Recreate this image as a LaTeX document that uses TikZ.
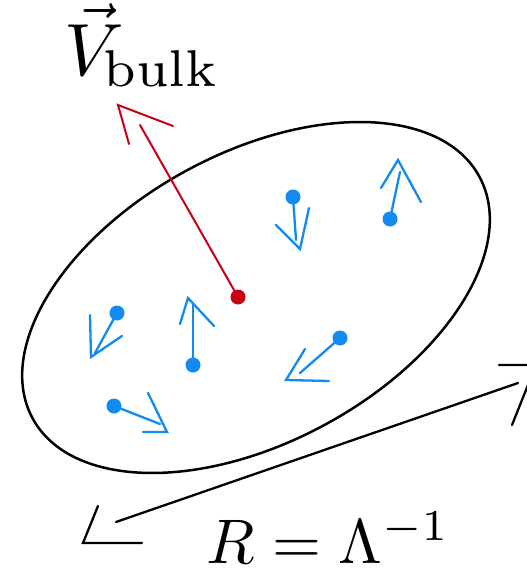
\documentclass[tikz,border=0pt]{standalone}
\usetikzlibrary{calc}
\definecolor{bulkred}{RGB}{200,0,22}
\definecolor{particleblue}{RGB}{18,138,240}
\tikzset{
  blob edge/.style={black,line width=2.5pt},
  size edge/.style={black,line width=2.3pt,line cap=round},
  bulk edge/.style={bulkred,line width=2pt,line cap=round},
  bulk dot/.style={circle,fill=bulkred,minimum size=15pt,inner sep=0pt},
  particle edge/.style={particleblue,line width=2.3pt,line cap=round},
  particle dot/.style={circle,fill=particleblue,minimum size=15pt,inner sep=0pt},
  big label/.style={inner sep=0pt,anchor=base west,transform shape}
}
\begin{document}
\begin{tikzpicture}[x=1pt,y=-1pt]
  \useasboundingbox (0,0) rectangle (527,568);
  % the blob
  \coordinate (blobcentre) at (256,297.5);
  \draw[blob edge,rotate around={28.4:(blobcentre)}]
    (blobcentre) ellipse [x radius=254pt,y radius=144.7pt];
  % bulk velocity
  \coordinate (bulkshaft) at (140,125);
  \coordinate (bulktip) at (118,105);
  \coordinate (bulkbarbl) at (129,144);
  \coordinate (bulkbarbr) at (173,126);
  \node[bulk dot] (bulkdot) at (238,297) {};
  \draw[bulk edge] (bulkdot.center) -- (bulkshaft);
  \draw[bulk edge] (bulkbarbl) -- (bulktip) -- (bulkbarbr);
  \node[big label,scale=7.4] (bulklabel) at (63,75)
    {$\vec{V}\mkern-5mu{}_{\mathrm{bulk}}$};
  % particles: dot / shaft end / tip / barbs
  \foreach \n/\d/\s/\t/\l/\r in {
      one/{293,197}/{296,240}/{300,249}/{276,225}/{309,208},
      two/{390,219}/{400,172}/{398,160}/{381,188}/{421,202},
      three/{340,338}/{300,373}/{286,380}/{305,349}/{329,381},
      four/{117,313}/{95,353}/{91,357}/{90,315}/{122,336},
      five/{193,365}/{193,305}/{188,298}/{180,324}/{214,326},
      six/{114,406}/{160,424}/{167,432}/{148,393}/{143,432}}{
    \coordinate (shaft\n) at (\s);
    \coordinate (tip\n) at (\t);
    \coordinate (barbl\n) at (\l);
    \coordinate (barbr\n) at (\r);
    \node[particle dot] (dot\n) at (\d) {};
    \draw[particle edge] (dot\n.center) -- (shaft\n);
    \draw[particle edge] (barbl\n) -- (tip\n) -- (barbr\n);
  }
  % size of the blob
  \coordinate (sizeleft) at (116,522);
  \coordinate (sizeright) at (518,383);
  \draw[size edge] (sizeleft) -- (sizeright);
  \draw[size edge] (98,506) -- (83,543) -- (142,543);
  \draw[size edge] (499,365) -- (536,365) -- (512,425);
  \node[big label,scale=6.3] (sizelabel) at (205,563)
    {$R=\Lambda^{-1}$};
\end{tikzpicture}
\end{document}
